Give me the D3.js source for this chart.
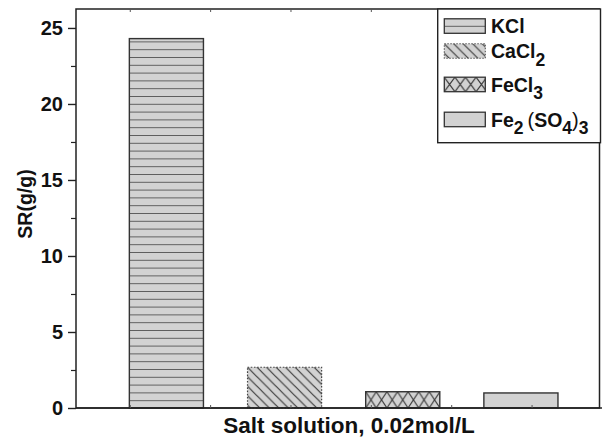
<!DOCTYPE html>
<html>
<head>
<meta charset="utf-8">
<script src="https://cdn.jsdelivr.net/npm/d3@7/dist/d3.min.js"></script>
<style>
  html, body { margin: 0; padding: 0; background: #fff; }
  svg { display: block; font-family: "Liberation Sans", Arial, sans-serif; }
</style>
</head>
<body>
<svg id="chart" width="602" height="439"></svg>
<script>
// Swelling ratio of the absorbent in different salt solutions (0.02 mol/L)
const categories = ["KCl", "CaCl2", "FeCl3", "Fe2(SO4)3"];
const positions = [1, 2, 3, 4];
const values = [24.3, 2.68, 1.07, 0.99];
const fills = ["hlines", "diag", "cross", "solid"];

// legend label pieces: [text, kind]  kind: n = normal, s = subscript, p = plain parenthesis
const legendLabels = [
  [["KCl", "n"]],
  [["CaCl", "n"], ["2", "s"]],
  [["FeCl", "n"], ["3", "s"]],
  [["Fe", "n"], ["2", "s"], ["\u2009(", "p"], ["SO", "n"], ["4", "s"], [")", "p"], ["3", "s"]]
];

const yTicks = [0, 5, 10, 15, 20, 25];
const yMinorTicks = [2.5, 7.5, 12.5, 17.5, 22.5];
const xTicks = [0.69, 1.37, 2.05, 2.73, 3.41, 4.09];
const yDomain = [0, 26.3];
const xDomain = [0.235, 4.665];
const barWidth = 0.627;

const yTitle = "SR(g/g)";
const xTitle = "Salt solution, 0.02mol/L";

const svg = d3.select("#chart");
const plotL = 76, plotR = 599.5, plotT = 9, plotB = 408;
const ink = "#222";
const grey = "#d2d2d2";

const x = d3.scaleLinear().domain(xDomain).range([plotL, plotR]);
const y = d3.scaleLinear().domain(yDomain).range([plotB, 8.2]);

const defs = svg.append("defs");

// hatch patterns anchored at the top-left corner of each filled shape
let patId = 0;
function patternFor(kind, x0, y0, h) {
  const id = "pat" + (patId++);
  if (kind === "hlines") {
    const p = defs.append("pattern").attr("id", id)
      .attr("patternUnits", "userSpaceOnUse")
      .attr("x", 0).attr("y", (plotB % 7.8))
      .attr("width", 20).attr("height", 7.8);
    p.append("rect").attr("width", 20).attr("height", 7.8).attr("fill", grey);
    p.append("line").attr("x1", 0).attr("x2", 20).attr("y1", 0).attr("y2", 0)
      .attr("stroke", "#444").attr("stroke-width", 1.6);
  } else if (kind === "diag") {
    const p = defs.append("pattern").attr("id", id)
      .attr("patternUnits", "userSpaceOnUse")
      .attr("x", x0).attr("y", y0)
      .attr("width", 9.5).attr("height", 9.5);
    p.append("rect").attr("width", 9.5).attr("height", 9.5).attr("fill", grey);
    p.append("path").attr("d", "M-1,-1L10.5,10.5M-5.75,3.75L5.75,15.25M3.75,-5.75L15.25,5.75")
      .attr("stroke", "#333").attr("stroke-width", 1.1);
  } else if (kind === "cross") {
    const w = 10.6;
    const p = defs.append("pattern").attr("id", id)
      .attr("patternUnits", "userSpaceOnUse")
      .attr("x", x0).attr("y", y0)
      .attr("width", w).attr("height", h);
    p.append("rect").attr("width", w).attr("height", h).attr("fill", grey);
    p.append("path").attr("d", `M0,0L${w},${h}M${w},0L0,${h}`)
      .attr("stroke", "#333").attr("stroke-width", 1.1);
  }
  return kind === "solid" ? grey : `url(#${id})`;
}

// bars
const bars = categories.map((c, i) => ({ c, pos: positions[i], v: values[i], fill: fills[i] }));
bars.forEach(d => {
  const bx = x(d.pos - barWidth / 2);
  const bw = x(d.pos + barWidth / 2) - bx;
  const by = y(d.v);
  const bh = y(0) - by;
  svg.append("rect")
    .attr("x", bx).attr("y", by).attr("width", bw).attr("height", bh)
    .attr("fill", patternFor(d.fill, bx, by, bh))
    .attr("stroke", d.fill === "diag" ? "#444" : "#333")
    .attr("stroke-width", d.fill === "diag" ? 1.2 : 1.4)
    .attr("stroke-dasharray", d.fill === "diag" ? "1.6,1.6" : null);
});

// frame
svg.append("rect").attr("x", plotL).attr("y", plotT).attr("width", plotR - plotL).attr("height", plotB - plotT)
  .attr("fill", "none").attr("stroke", ink).attr("stroke-width", 1.5);
svg.append("line").attr("x1", plotL).attr("x2", 602).attr("y1", plotB).attr("y2", plotB)
  .attr("stroke", ink).attr("stroke-width", 1.6);

// y axis
const yAxis = svg.append("g").attr("transform", `translate(${plotL},0)`)
  .call(d3.axisLeft(y).tickValues(yTicks).tickSize(8).tickPadding(5).tickFormat(d3.format("d")));
yAxis.select(".domain").remove();
yAxis.selectAll(".tick line").attr("stroke", ink).attr("stroke-width", 1.4);
yAxis.selectAll(".tick text")
  .attr("font-family", "Liberation Sans, Arial, sans-serif")
  .attr("font-size", 20).attr("font-weight", "bold").attr("fill", "#111")
  .attr("dy", "0.32em");
const yMinor = svg.append("g").attr("transform", `translate(${plotL},0)`)
  .call(d3.axisLeft(y).tickValues(yMinorTicks).tickSize(5).tickFormat(""));
yMinor.select(".domain").remove();
yMinor.selectAll(".tick line").attr("stroke", ink).attr("stroke-width", 1.2);

// x ticks (bottom pointing in, top pointing in)
const xb = svg.append("g").attr("transform", `translate(0,${plotB})`)
  .call(d3.axisTop(x).tickValues(xTicks).tickSize(3).tickFormat(""));
xb.select(".domain").remove();
xb.selectAll(".tick line").attr("stroke", "#555").attr("stroke-width", 1);
const xt = svg.append("g").attr("transform", `translate(0,${plotT})`)
  .call(d3.axisBottom(x).tickValues(xTicks).tickSize(3).tickFormat(""));
xt.select(".domain").remove();
xt.selectAll(".tick line").attr("stroke", "#555").attr("stroke-width", 1);

// axis titles
svg.append("text")
  .attr("transform", `translate(32,204) rotate(-90)`)
  .attr("text-anchor", "middle")
  .attr("font-size", 19.5).attr("font-weight", "bold").attr("fill", "#111")
  .text(yTitle);
svg.append("text")
  .attr("x", 349).attr("y", 433)
  .attr("text-anchor", "middle")
  .attr("font-size", 22.5).attr("font-weight", "bold").attr("fill", "#111")
  .text(xTitle);

// legend
const lg = svg.append("g");
lg.append("rect").attr("x", 437.7).attr("y", plotT).attr("width", 600.5 - 437.7).attr("height", 142.7 - plotT)
  .attr("fill", "#fff").attr("stroke", ink).attr("stroke-width", 1.4);
const rowBase = [33.3, 58.3, 91.7, 126.7];
const swH = 14.5, swX = 444.3, swW = 41;
legendLabels.forEach((parts, i) => {
  const sy = rowBase[i] - swH;
  lg.append("rect")
    .attr("x", swX).attr("y", sy).attr("width", swW).attr("height", swH)
    .attr("fill", patternFor(fills[i], swX, sy, swH))
    .attr("stroke", fills[i] === "diag" ? "#555" : "#333")
    .attr("stroke-width", fills[i] === "diag" ? 1.1 : 1.3)
    .attr("stroke-dasharray", fills[i] === "diag" ? "1.5,1.5" : null);
  const t = lg.append("text").attr("x", 491).attr("y", rowBase[i])
    .attr("font-size", 19.5).attr("font-weight", "bold").attr("fill", "#111");
  parts.forEach(([s, k], j) => {
    const prev = j > 0 ? parts[j - 1][1] : "n";
    const ts = t.append("tspan").text(s);
    if (k === "s") {
      ts.attr("font-size", 17.5).attr("dy", prev === "s" ? 0 : 7.5);
    } else {
      ts.attr("dy", prev === "s" ? -7.5 : 0);
      if (k === "p") ts.attr("font-weight", "normal").attr("font-size", 20);
    }
  });
});
</script>
</body>
</html>
